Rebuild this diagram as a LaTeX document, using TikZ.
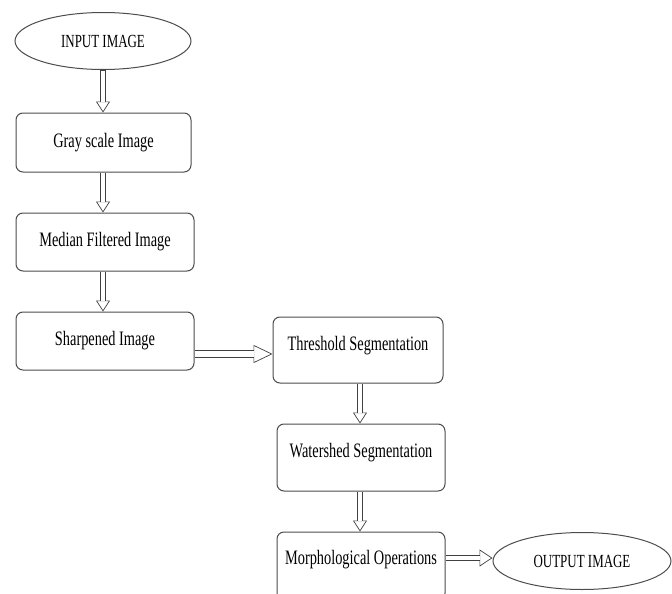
\documentclass[tikz,border=0pt]{standalone}
\usepackage{fontspec}
\setmainfont{Liberation Serif}[FakeStretch=0.7]
\usetikzlibrary{shapes}
\usetikzlibrary{arrows.meta}
\usetikzlibrary{positioning}

\begin{document}
\begin{tikzpicture}[x=1pt,y=-1pt,
  stepbox/.style={draw=black!70,line width=1pt,rounded corners=7pt,
    align=center,font=\fontsize{20.5}{22}\selectfont},
  oval/.style={draw=black!70,line width=1pt,ellipse,inner sep=0pt,
    font=\fontsize{18.5}{20}\selectfont},
  flow/.style args={#1/#2/#3}{
    postaction={draw=black!75,line width=0.7pt,-{Triangle[fill=white,length=#2,width=#3]}},
    postaction={draw=black!75,line width=#1+2pt,shorten >=#2-0.3pt},
    postaction={draw=white,line width=#1,shorten >=#2-0.6pt,shorten <=0.6pt}},
  flow/.default={4pt/11pt/14pt}]
  \useasboundingbox (0,0) rectangle (672,594);
  % left column
  \node[oval,minimum width=176pt,minimum height=57pt] (in) at (103,41) {INPUT IMAGE};
  \node[stepbox,minimum width=175pt,minimum height=59pt] (gray) at (103.5,142.5) {Gray scale Image};
  \node[stepbox,minimum width=178pt,minimum height=58pt] (median) at (105,242) {Median Filtered Image};
  \node[stepbox,minimum width=178pt,minimum height=58pt] (sharp) at (105,341) {Sharpened Image};
  % right column
  \node[stepbox,minimum width=170pt,minimum height=66pt,text depth=13pt] (thresh) at (358,350) {Threshold Segmentation};
  \node[stepbox,minimum width=168pt,minimum height=67pt,text depth=15pt] (water) at (361,457.5) {Watershed Segmentation};
  \node[stepbox,minimum width=168pt,minimum height=68pt,text depth=18pt] (morph) at (361,566) {Morphological Operations};
  \node[oval,minimum width=178pt,minimum height=57pt] (out) at (582,561) {OUTPUT IMAGE};
  % arrows
  \path[flow] (in.south) -- (gray.north -| in.south);
  \path[flow] (gray.south -| in.south) -- (median.north -| in.south);
  \path[flow] (median.south -| in.south) -- (sharp.north -| in.south);
  \path[flow=6pt/19pt/18pt] (sharp.east |- 0,354) -- (thresh.west |- 0,354);
  \path[flow] (thresh.south -| 360,0) -- (water.north -| 360,0);
  \path[flow] (water.south -| 360,0) -- (morph.north -| 360,0);
  \path[flow=4pt/13pt/17pt] (morph.east |- 0,558) -- (out.west |- 0,558);
\end{tikzpicture}
\end{document}
